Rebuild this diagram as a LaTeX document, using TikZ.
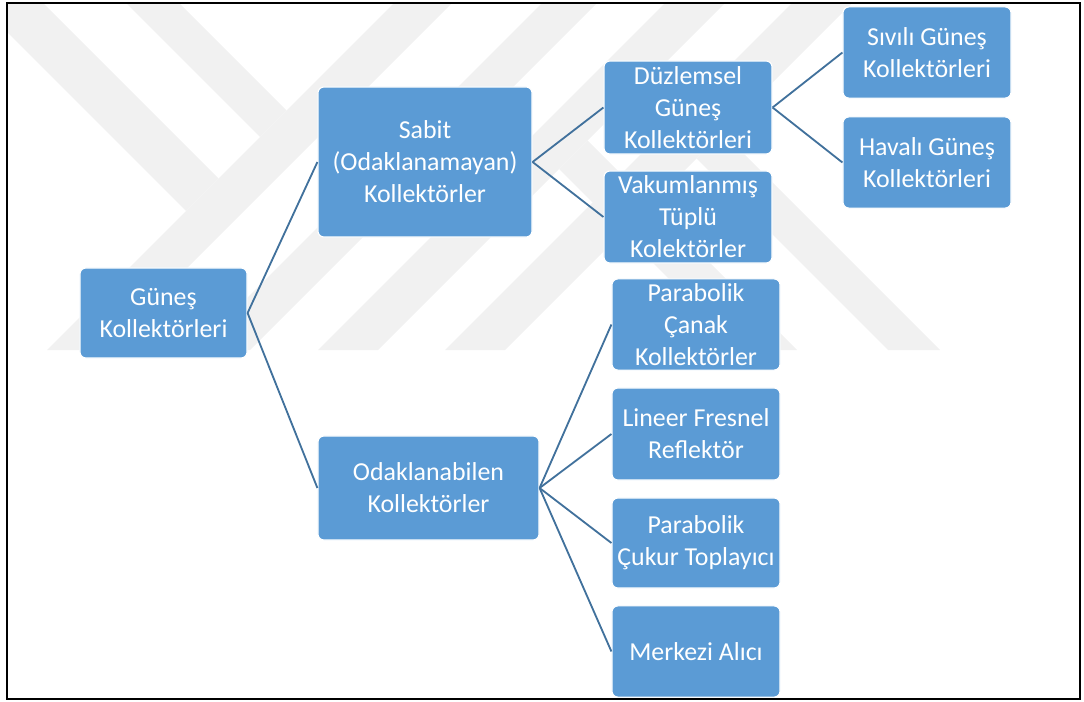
\documentclass[tikz,border=0pt]{standalone}
\usepackage{fontspec}
\setmainfont{Carlito}
\definecolor{boxblue}{RGB}{91,155,213}
\definecolor{linkblue}{RGB}{65,113,156}
\definecolor{wmgray}{RGB}{241,241,241}

\begin{document}
\begin{tikzpicture}[x=0.025cm,y=-0.025cm,
  box/.style={draw=white,line width=0.8pt,fill=boxblue,rounded corners=0.15cm,
    text=white,align=center,inner sep=0pt,minimum width=4.2cm,minimum height=2.28cm,
    font=\fontsize{18.4}{22.7}\selectfont},
  link/.style={draw=linkblue,line width=1.3pt}]
\useasboundingbox (0,0) rectangle (1084,702);

\begin{scope}
\clip (7,3) rectangle (1080,699);
\fill[wmgray] (47,350)--(105,350)--(455,0)--(397,0)--cycle;
\fill[wmgray] (195,350)--(250,350)--(600,0)--(545,0)--cycle;
\fill[wmgray] (318,350)--(378,350)--(728,0)--(668,0)--cycle;
\fill[wmgray] (445,350)--(505,350)--(855,0)--(795,0)--cycle;
\fill[wmgray] (-25,0)--(40,0)--(218.5,178.5)--(186,211)--cycle;
\fill[wmgray] (123,0)--(176,0)--(286.5,110.5)--(260,137)--cycle;
\fill[wmgray] (559,169)--(587.5,140.5)--(797,350)--(740,350)--cycle;
\fill[wmgray] (696.5,158.5)--(722.5,132.5)--(940,350)--(888,350)--cycle;
\end{scope}
\draw[line width=1.5pt] (7,3) rectangle (1080,699);

\node[box,minimum width=4.175cm,minimum height=2.25cm] (gunes) at (163.5,313) {Güneş\\Kollektörleri};
\node[box,minimum width=5.35cm,minimum height=3.75cm] (sabit) at (425,162) {Sabit\\(Odaklanamayan)\\Kollektörler};
\node[box,minimum width=5.525cm,minimum height=2.6cm] (odak) at (428.5,488) {Odaklanabilen\\Kollektörler};
\node[box,minimum height=2.325cm] (duz) at (688,107.5) {Düzlemsel\\Güneş\\Kollektörleri};
\node[box,minimum height=2.3cm] (vakum) at (688,217) {Vakumlanmış\\Tüplü\\Kolektörler};
\node[box] (sivi) at (927,52.5) {Sıvılı Güneş\\Kollektörleri};
\node[box] (hava) at (927,162.5) {Havalı Güneş\\Kollektörleri};
\node[box] (canak) at (696,324.5) {Parabolik\\Çanak\\Kollektörler};
\node[box,minimum height=2.3cm] (fresnel) at (696,434) {Lineer Fresnel\\Reflektör};
\node[box,minimum height=2.25cm] (cukur) at (696,543) {Parabolik\\Çukur Toplayıcı};
\node[box] (merkez) at (696,651.5) {Merkezi Alıcı};

\draw[link] (gunes.east)--(sabit.west);
\draw[link] (gunes.east)--(odak.west);
\draw[link] (sabit.east)--(duz.west);
\draw[link] (sabit.east)--(vakum.west);
\draw[link] (duz.east)--(sivi.west);
\draw[link] (duz.east)--(hava.west);
\draw[link] (odak.east)--(canak.west);
\draw[link] (odak.east)--(fresnel.west);
\draw[link] (odak.east)--(cukur.west);
\draw[link] (odak.east)--(merkez.west);
\end{tikzpicture}
\end{document}
